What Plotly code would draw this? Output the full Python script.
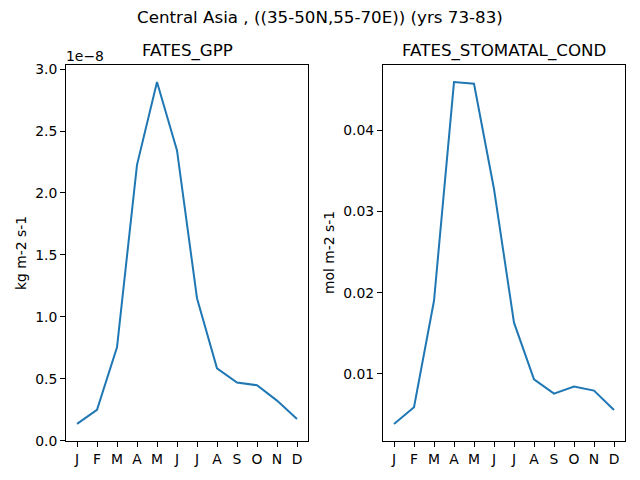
import plotly.graph_objects as go

months = ["J", "F", "M", "A", "M", "J", "J", "A", "S", "O", "N", "D"]
gpp = [0.135e-8, 0.248e-8, 0.754e-8, 2.227e-8, 2.895e-8, 2.343e-8,
       1.150e-8, 0.584e-8, 0.469e-8, 0.447e-8, 0.323e-8, 0.175e-8]
stomatal = [0.00385, 0.0059, 0.0190, 0.0459, 0.0457, 0.03275,
            0.0163, 0.00934, 0.00758, 0.00844, 0.00795, 0.00557]
gpp_ticks = [0.0, 0.5e-8, 1.0e-8, 1.5e-8, 2.0e-8, 2.5e-8, 3.0e-8]
gpp_ticktext = ["0.0", "0.5", "1.0", "1.5", "2.0", "2.5", "3.0"]
st_ticks = [0.01, 0.02, 0.03, 0.04]
st_ticktext = ["0.01", "0.02", "0.03", "0.04"]

x = list(range(len(months)))
# page body has an 8px default margin; size the figure to fill the rest
OFF = 8
W, H = 640 - OFF, 480 - OFF
FONT = "DejaVu Sans"
color = "#1f77b4"
SMALL = 13.9
BIG = 16.7


def fx(px):
    return (px - OFF) / W


def fy(py):
    return 1 - (py - OFF) / H


fig = go.Figure()
fig.add_trace(go.Scatter(x=x, y=gpp, mode="lines", line=dict(color=color, width=2),
                         xaxis="x", yaxis="y", showlegend=False))
fig.add_trace(go.Scatter(x=x, y=stomatal, mode="lines", line=dict(color=color, width=2),
                         xaxis="x2", yaxis="y2", showlegend=False))


def pad(vals):
    lo, hi = min(vals), max(vals)
    s = (hi - lo) * 0.05
    return [lo - s, hi + s]


ydom = [fy(441), fy(65)]
axcommon = dict(showline=True, mirror=True, linecolor="black", linewidth=1,
                ticks="outside", ticklen=5, tickcolor="black", tickwidth=1,
                showgrid=False, zeroline=False, automargin=False,
                tickfont=dict(family=FONT, size=SMALL, color="black"))

fig.update_layout(
    width=W, height=H,
    margin=dict(l=0, r=0, t=0, b=0, pad=0),
    paper_bgcolor="white", plot_bgcolor="white",
    font=dict(family=FONT, color="black"),
    xaxis=dict(domain=[fx(66), fx(308)], anchor="y", range=[-0.55, 11.55],
               tickvals=x, ticktext=months, **axcommon),
    yaxis=dict(domain=ydom, anchor="x", range=pad(gpp),
               tickvals=gpp_ticks, ticktext=gpp_ticktext, **axcommon),
    xaxis2=dict(domain=[fx(383), fx(625)], anchor="y2", range=[-0.55, 11.55],
                tickvals=x, ticktext=months, **axcommon),
    yaxis2=dict(domain=ydom, anchor="x2", range=pad(stomatal),
                tickvals=st_ticks, ticktext=st_ticktext, **axcommon),
)

ann = [
    dict(text="Central Asia , ((35-50N,55-70E)) (yrs 73-83)", x=fx(320), y=fy(17),
         font=dict(size=BIG)),
    dict(text="FATES_GPP", x=fx(187), y=fy(51), font=dict(size=BIG)),
    dict(text="FATES_STOMATAL_COND", x=fx(504), y=fy(51), font=dict(size=BIG)),
    dict(text="1e\u22128", x=fx(85), y=fy(56), font=dict(size=SMALL)),
    dict(text="kg m-2 s-1", x=fx(21), y=fy(253), font=dict(size=SMALL), textangle=-90),
    dict(text="mol m-2 s-1", x=fx(329), y=fy(253), font=dict(size=SMALL), textangle=-90),
]
for a in ann:
    a.update(xref="paper", yref="paper", showarrow=False, xanchor="center", yanchor="middle")
    a["font"]["family"] = FONT
    a["font"]["color"] = "black"
fig.update_layout(annotations=ann)

fig.write_html("out.html")
